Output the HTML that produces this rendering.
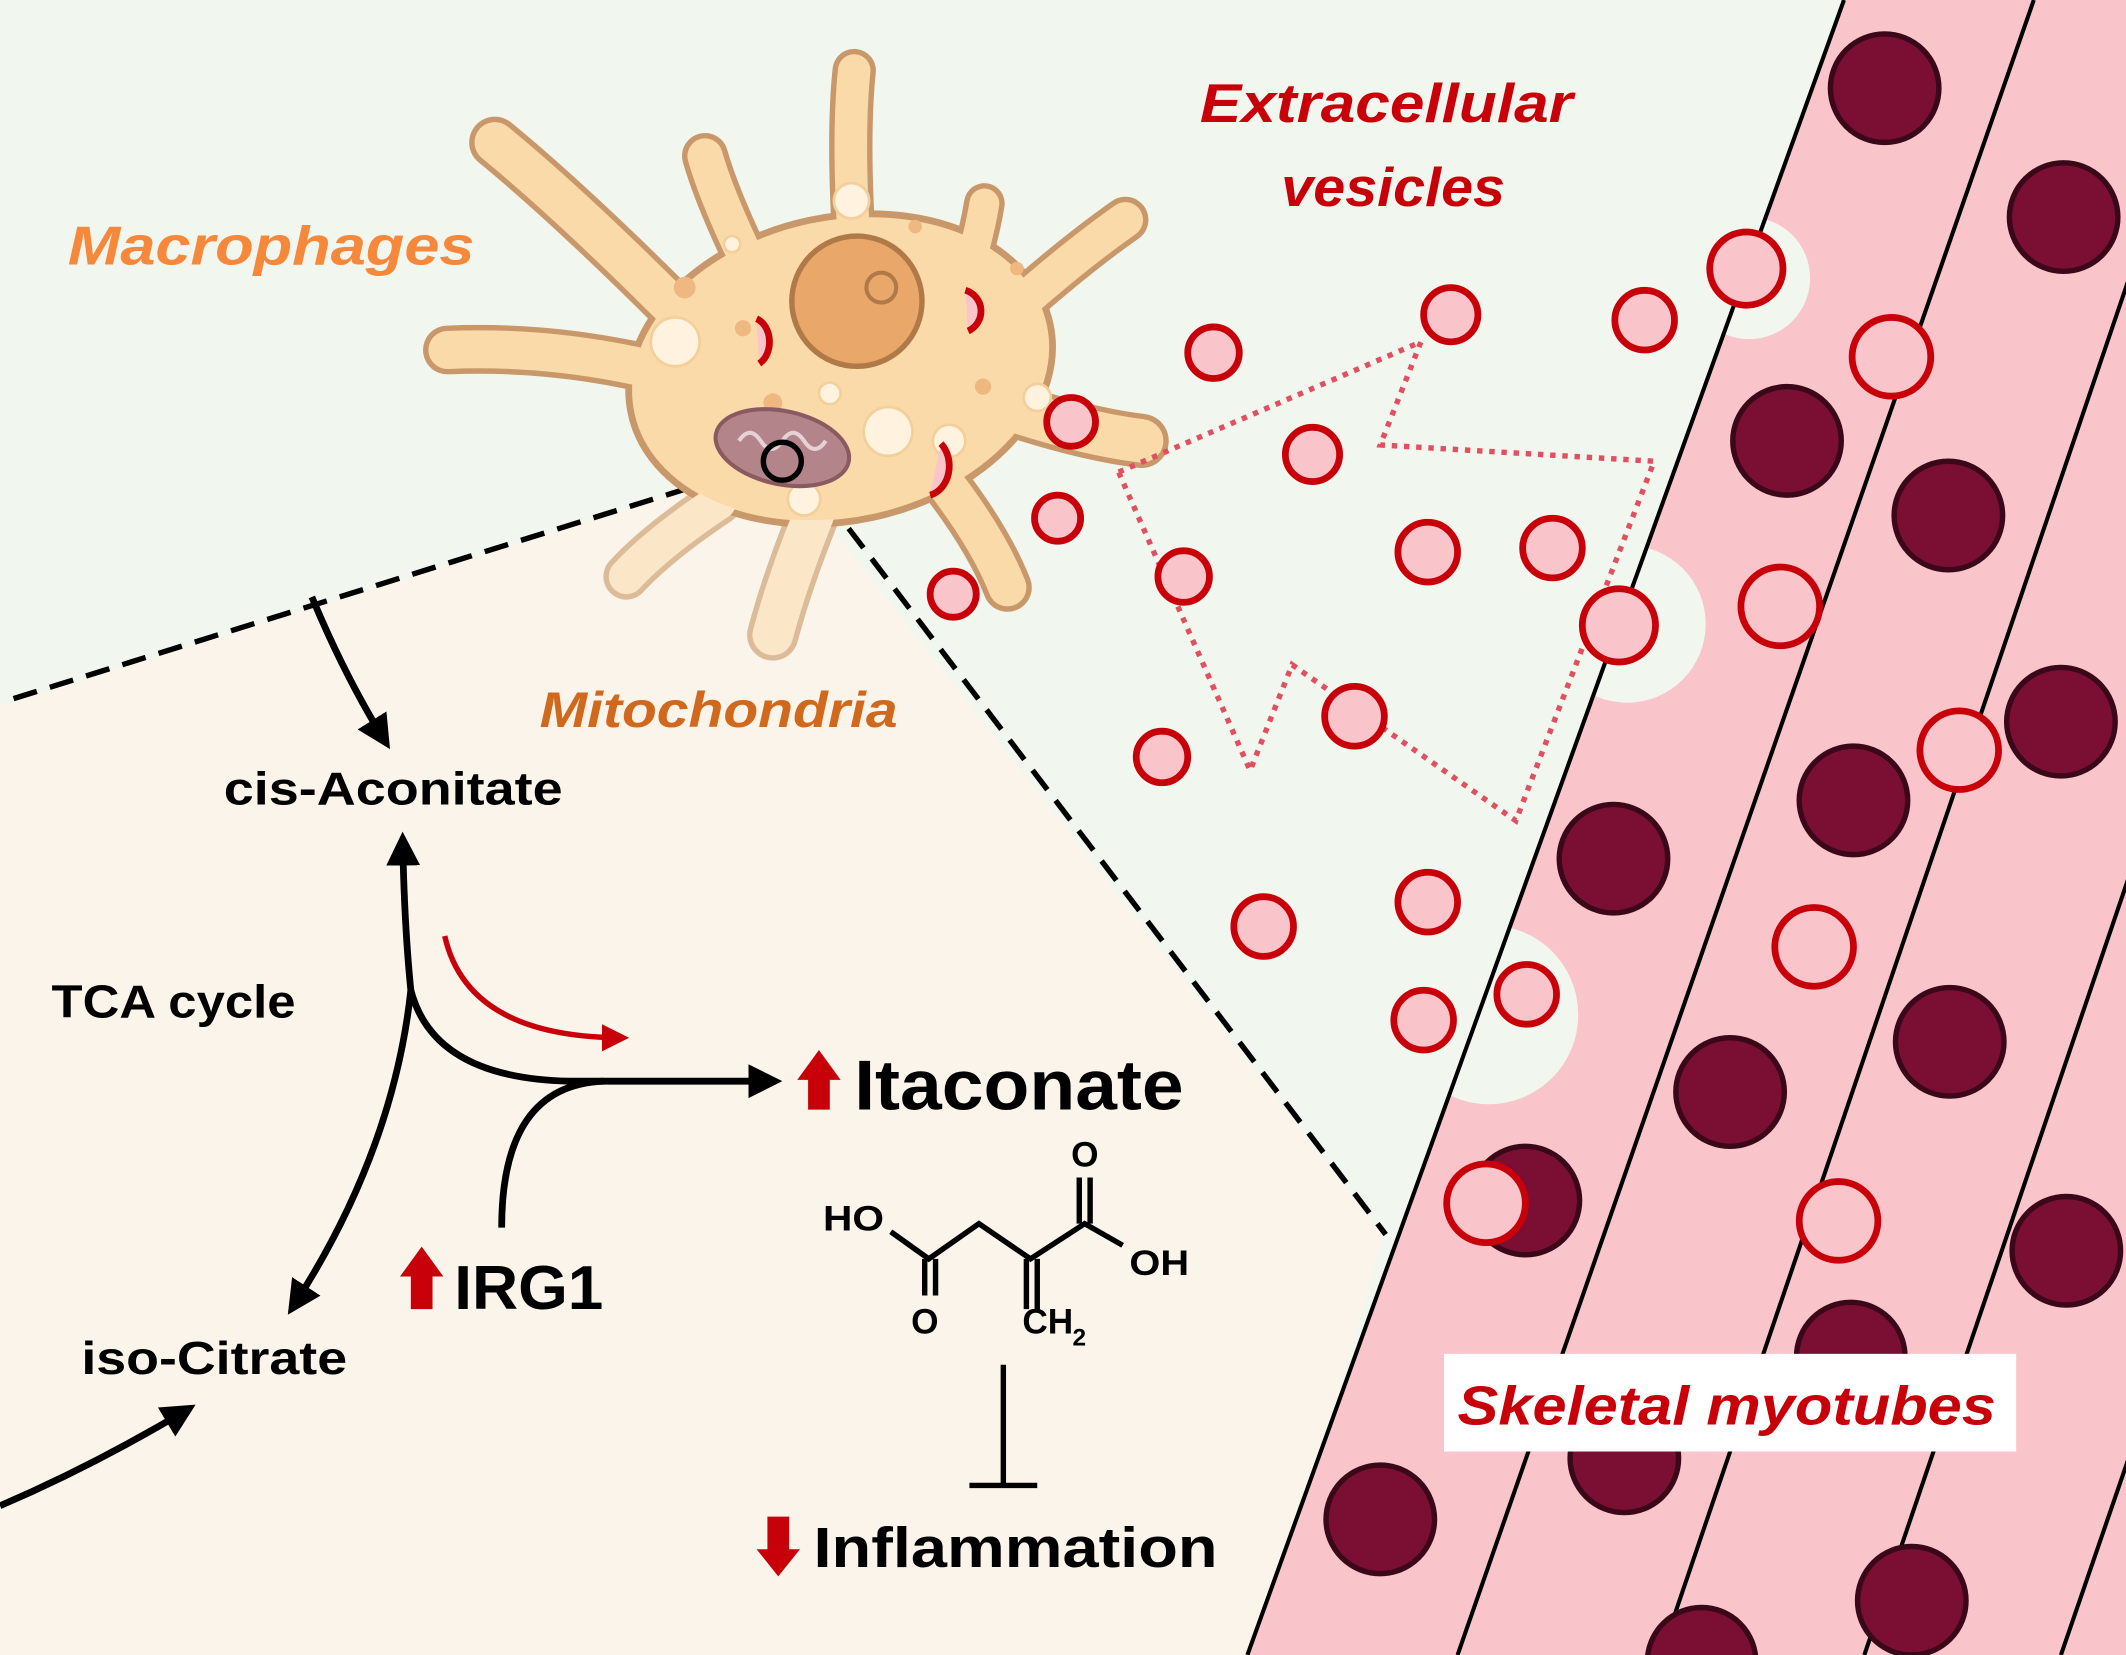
<!DOCTYPE html>
<html><head><style>html,body{margin:0;padding:0;background:#fff}svg{display:block}</style></head>
<body>
<svg width="2126" height="1655" viewBox="0 0 1568 1220" preserveAspectRatio="none" xmlns="http://www.w3.org/2000/svg" font-family="Liberation Sans, sans-serif">
<defs>
<marker id="ah" viewBox="0 0 10 10" refX="8" refY="5" markerWidth="5" markerHeight="5" orient="auto"><path d="M0,0 L10,5 L0,10 z" fill="#000"/></marker>
<marker id="ahr" viewBox="0 0 10 10" refX="8" refY="5" markerWidth="5" markerHeight="5" orient="auto"><path d="M0,0 L10,5 L0,10 z" fill="#c8000a"/></marker>
</defs>
<rect width="1568" height="1220" fill="#f1f7ee"/>
<polygon points="0,520 575,340 1020,910 935,1220 0,1220" fill="#fbf4ea"/>
<!-- myotubes -->
<polygon points="1360,0 1568,0 1568,1220 920,1220" fill="#f9c5cb"/>
<g fill="#f1f7ee"><circle cx="1290" cy="205" r="45"/><circle cx="1200" cy="460" r="58"/><circle cx="1098" cy="748" r="66"/></g>
<g stroke="#000" stroke-width="3">
<line x1="1360" y1="0" x2="920" y2="1220"/>
<line x1="1500" y1="0" x2="1075" y2="1220"/>
<line x1="1640" y1="0" x2="1225" y2="1220"/>
<line x1="1790" y1="0" x2="1375" y2="1220"/>
<line x1="1940" y1="0" x2="1520" y2="1220"/>
</g>
<g fill="#7b0f33" stroke="#3a0818" stroke-width="4">
<circle cx="1390" cy="65" r="40"/><circle cx="1522" cy="160" r="40"/><circle cx="1318" cy="325" r="40"/><circle cx="1437" cy="380" r="40"/><circle cx="1520" cy="532" r="40"/><circle cx="1367" cy="590" r="40"/><circle cx="1190" cy="633" r="40"/><circle cx="1438" cy="768" r="40"/><circle cx="1276" cy="805" r="40"/><circle cx="1125" cy="885" r="40"/><circle cx="1524" cy="922" r="40"/><circle cx="1365" cy="1000" r="40"/><circle cx="1198" cy="1075" r="40"/><circle cx="1018" cy="1120" r="40"/><circle cx="1410" cy="1180" r="40"/><circle cx="1255" cy="1225" r="40"/>
</g>
<!-- dashed zoom lines -->
<g stroke="#000" stroke-width="4" stroke-dasharray="18,10" fill="none">
<line x1="10" y1="515" x2="565" y2="342"/>
<line x1="592" y1="345" x2="1022" y2="910"/>
</g>
<!-- macrophage: outline layer -->
<g stroke="#c9986a" fill="none" stroke-linecap="round">
<path d="M600,380 Q580,430 570,468" stroke-width="38" stroke="#dcbc98"/>
<path d="M530,370 Q485,400 462,425" stroke-width="34" stroke="#dcbc98"/>
<path d="M470,270 Q400,255 330,258" stroke-width="36"/>
<path d="M500,230 Q420,150 365,105" stroke-width="38"/>
<path d="M560,210 Q530,150 520,115" stroke-width="34"/>
<path d="M630,180 Q625,100 630,52" stroke-width="32"/>
<path d="M712,205 Q722,175 726,150" stroke-width="30"/>
<path d="M740,235 Q790,190 830,162" stroke-width="34"/>
<path d="M740,300 Q800,320 842,325" stroke-width="40"/>
<path d="M700,360 Q730,400 743,433" stroke-width="36"/>
</g>
<ellipse cx="620" cy="272" rx="158" ry="112" transform="rotate(-12 620 272)" fill="#fbdaa9" stroke="#c9986a" stroke-width="5"/>
<g stroke="#fbdaa9" fill="none" stroke-linecap="round">
<path d="M600,380 Q580,430 570,468" stroke-width="30" stroke="#fce6c8"/>
<path d="M530,370 Q485,400 462,425" stroke-width="26" stroke="#fce6c8"/>
<path d="M470,270 Q400,255 330,258" stroke-width="28"/>
<path d="M500,230 Q420,150 365,105" stroke-width="30"/>
<path d="M560,210 Q530,150 520,115" stroke-width="26"/>
<path d="M630,180 Q625,100 630,52" stroke-width="24"/>
<path d="M712,205 Q722,175 726,150" stroke-width="22"/>
<path d="M740,235 Q790,190 830,162" stroke-width="26"/>
<path d="M740,300 Q800,320 842,325" stroke-width="32"/>
<path d="M700,360 Q730,400 743,433" stroke-width="28"/>
</g>
<ellipse cx="620" cy="272" rx="155" ry="109" transform="rotate(-12 620 272)" fill="#fbdaa9"/>
<g fill="#fff2de" stroke="#f3cf9c" stroke-width="2">
<circle cx="628" cy="148" r="13"/><circle cx="498" cy="252" r="18"/><circle cx="655" cy="318" r="18"/><circle cx="612" cy="290" r="8"/><circle cx="540" cy="180" r="6"/><circle cx="765" cy="293" r="10"/><circle cx="700" cy="325" r="12"/><circle cx="593" cy="368" r="12"/><circle cx="548" cy="315" r="10"/>
</g>
<g fill="#eeb880"><circle cx="505" cy="212" r="8"/><circle cx="548" cy="242" r="6"/><circle cx="570" cy="297" r="7"/><circle cx="725" cy="285" r="6"/><circle cx="675" cy="167" r="5"/><circle cx="750" cy="198" r="5"/></g>
<circle cx="632" cy="222" r="48" fill="#e9a86a" stroke="#b07a48" stroke-width="4"/>
<circle cx="650" cy="212" r="11" fill="none" stroke="#b07a48" stroke-width="3"/>
<g fill="#f9c5cb" stroke="#c8000a" stroke-width="5">
<path d="M558,235 A14,18 0 0 1 560,268"/><path d="M712,214 A16,16 0 0 1 714,244"/><path d="M694,327 A18,22 0 0 1 686,365"/>
</g>
<ellipse cx="577" cy="330" rx="50" ry="27" fill="#b3858a" stroke="#8a5a60" stroke-width="3" transform="rotate(12 577 330)"/>
<path d="M545,325 q8,-12 16,0 q8,12 16,0 q8,-12 16,0 q8,12 16,0" stroke="#e6d2d4" stroke-width="3" fill="none"/>
<circle cx="577" cy="340" r="14" fill="none" stroke="#000" stroke-width="4"/>
<!-- dotted arrow -->
<polygon points="825,348 1048,252 1018,328 1220,340 1118,605 953,490 922,568" fill="none" stroke="#e05060" stroke-width="4" stroke-dasharray="4,5"/>
<!-- vesicles -->
<g fill="#f9c5cb" stroke="#c8000a" stroke-width="5">
<circle cx="1070" cy="232" r="20"/><circle cx="1213" cy="236" r="22"/><circle cx="895" cy="260" r="19"/><circle cx="968" cy="335" r="20"/><circle cx="790" cy="311" r="18"/><circle cx="780" cy="382" r="17"/><circle cx="1053" cy="407" r="22"/><circle cx="1145" cy="404" r="22"/><circle cx="873" cy="425" r="19"/><circle cx="703" cy="438" r="17"/><circle cx="999" cy="528" r="22"/><circle cx="857" cy="558" r="19"/><circle cx="932" cy="683" r="22"/><circle cx="1053" cy="665" r="22"/><circle cx="1126" cy="733" r="22"/><circle cx="1050" cy="752" r="22"/>
<circle cx="1288" cy="198" r="27"/><circle cx="1395" cy="263" r="29"/><circle cx="1313" cy="447" r="29"/><circle cx="1194" cy="461" r="27"/><circle cx="1445" cy="553" r="29"/><circle cx="1338" cy="698" r="29"/><circle cx="1096" cy="887" r="29"/><circle cx="1356" cy="900" r="29"/>
</g>
<!-- labels -->
<g font-weight="bold" font-style="italic">
<text x="50" y="195" font-size="40" fill="#f5883a" textLength="300" lengthAdjust="spacingAndGlyphs">Macrophages</text>
<text x="885" y="90" font-size="40" fill="#c8000a" textLength="275" lengthAdjust="spacingAndGlyphs">Extracellular</text>
<text x="945" y="152" font-size="40" fill="#c8000a" textLength="165" lengthAdjust="spacingAndGlyphs">vesicles</text>
<text x="398" y="536" font-size="37" fill="#d0681e" textLength="264" lengthAdjust="spacingAndGlyphs">Mitochondria</text>
</g>
<rect x="1065" y="998" width="422" height="72" fill="#fff"/>
<text x="1075" y="1050" font-size="40" font-weight="bold" font-style="italic" fill="#c8000a" textLength="397" lengthAdjust="spacingAndGlyphs">Skeletal myotubes</text>
<g font-weight="bold" fill="#000">
<text x="165" y="593" font-size="34" textLength="250" lengthAdjust="spacingAndGlyphs">cis-Aconitate</text>
<text x="38" y="750" font-size="34" textLength="180" lengthAdjust="spacingAndGlyphs">TCA cycle</text>
<text x="60" y="1013" font-size="34" textLength="196" lengthAdjust="spacingAndGlyphs">iso-Citrate</text>
<text x="630" y="818" font-size="52" textLength="243" lengthAdjust="spacingAndGlyphs">Itaconate</text>
<text x="335" y="965" font-size="46" textLength="110" lengthAdjust="spacingAndGlyphs">IRG1</text>
<text x="600" y="1155" font-size="42" textLength="298" lengthAdjust="spacingAndGlyphs">Inflammation</text>
<text x="607" y="907" font-size="26" textLength="45" lengthAdjust="spacingAndGlyphs">HO</text>
<text x="672" y="983" font-size="26">O</text>
<text x="790" y="860" font-size="26">O</text>
<text x="833" y="940" font-size="26" textLength="44" lengthAdjust="spacingAndGlyphs">OH</text>
<text x="754" y="983" font-size="26">CH</text><text x="791" y="992" font-size="18">2</text>
</g>
<!-- red up/down arrows -->
<g fill="#c8000a">
<path d="M596,818 v-22 h-8 l16,-22 l16,22 h-8 v22z"/>
<path d="M303,965 v-24 h-8 l16,-22 l16,22 h-8 v24z"/>
<path d="M566,1118 v24 h-8 l16,20 l16,-20 h-8 v-24z"/>
</g>
<!-- chem bonds -->
<g stroke="#000" stroke-width="4" fill="none">
<polyline points="657,908 685,928 722,902 760,928 800,902 828,918"/>
<line x1="682" y1="928" x2="682" y2="955"/><line x1="690" y1="928" x2="690" y2="955"/>
<line x1="757" y1="928" x2="757" y2="965"/><line x1="765" y1="928" x2="765" y2="965"/>
<line x1="796" y1="902" x2="796" y2="868"/><line x1="804" y1="902" x2="804" y2="868"/>
<line x1="740" y1="1006" x2="740" y2="1095"/><line x1="715" y1="1095" x2="765" y2="1095"/>
</g>
<!-- pathway arrows -->
<g stroke="#000" stroke-width="5" fill="none">
<path d="M230,440 Q255,500 285,548" marker-end="url(#ah)"/>
<path d="M303,730 Q298,680 297,618" marker-end="url(#ah)"/>
<path d="M303,730 Q290,850 215,965" marker-end="url(#ah)"/>
<path d="M303,730 Q320,795 420,797 L572,797" marker-end="url(#ah)"/>
<path d="M370,905 Q370,800 445,797"/>
<path d="M0,1110 Q70,1080 140,1038" marker-end="url(#ah)"/>
</g>
<path d="M328,690 Q345,765 460,765" stroke="#c8000a" stroke-width="4" fill="none" marker-end="url(#ahr)"/>
</svg>
</body></html>
